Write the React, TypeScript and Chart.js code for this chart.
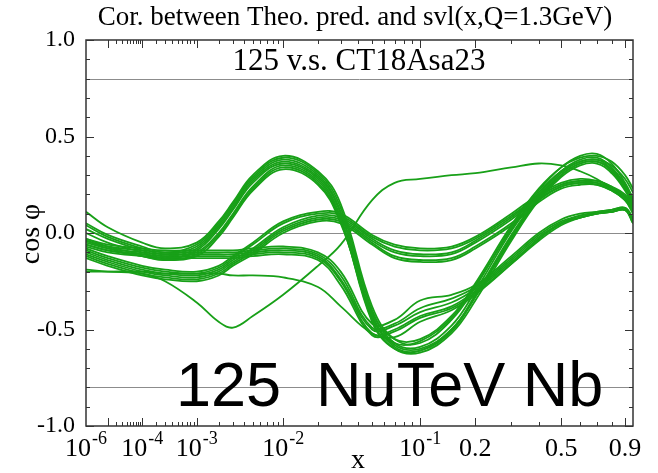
import React, { useEffect, useRef } from 'react';
import { Chart, registerables, LinearScale } from 'chart.js';

// ---------- data ----------
const xs = [1e-6, 1e-5, 1e-4, 3e-4, 1e-3, 2e-3, 3e-3, 5e-3, 1e-2, 2e-2, 3e-2, 5e-2, 7e-2, 0.1, 0.15, 0.2, 0.3, 0.4, 0.5, 0.6, 0.7, 0.8, 0.9, 0.964];

const A1 = [0.11, 0.03, -0.05, -0.08, -0.05, 0.06, 0.16, 0.30, 0.40, 0.32, 0.15, -0.38, -0.55, -0.57, -0.45, -0.28, 0.03, 0.22, 0.34, 0.40, 0.41, 0.36, 0.26, 0.18];
const A2 = [0.05, -0.01, -0.07, -0.10, -0.06, 0.05, 0.15, 0.29, 0.39, 0.31, 0.13, -0.40, -0.57, -0.59, -0.48, -0.30, 0.01, 0.20, 0.32, 0.38, 0.39, 0.34, 0.25, 0.17];
const A3 = [0.04, -0.02, -0.08, -0.11, -0.07, 0.04, 0.14, 0.28, 0.38, 0.30, 0.11, -0.42, -0.58, -0.60, -0.50, -0.32, -0.01, 0.19, 0.31, 0.37, 0.38, 0.33, 0.24, 0.16];
const A4 = [0.02, -0.03, -0.09, -0.12, -0.08, 0.03, 0.13, 0.27, 0.37, 0.29, 0.10, -0.43, -0.59, -0.61, -0.51, -0.33, -0.02, 0.18, 0.30, 0.36, 0.37, 0.32, 0.23, 0.15];
const A5 = [0.00, -0.05, -0.10, -0.13, -0.09, 0.02, 0.12, 0.26, 0.36, 0.28, 0.08, -0.45, -0.60, -0.62, -0.52, -0.35, -0.04, 0.17, 0.29, 0.35, 0.36, 0.31, 0.22, 0.14];
const A6 = [-0.03, -0.07, -0.11, -0.13, -0.10, 0.00, 0.10, 0.24, 0.35, 0.27, 0.07, -0.46, -0.60, -0.61, -0.50, -0.33, -0.03, 0.18, 0.30, 0.36, 0.37, 0.33, 0.25, 0.18];
const A7 = [-0.04, -0.08, -0.12, -0.14, -0.11, -0.01, 0.09, 0.23, 0.34, 0.26, 0.06, -0.44, -0.57, -0.56, -0.44, -0.27, 0.02, 0.21, 0.32, 0.37, 0.38, 0.35, 0.28, 0.21];
const A8 = [-0.06, -0.09, -0.12, -0.14, -0.12, -0.02, 0.08, 0.22, 0.33, 0.25, 0.05, -0.41, -0.55, -0.55, -0.43, -0.26, 0.04, 0.23, 0.34, 0.39, 0.40, 0.37, 0.30, 0.23];

const B1 = [-0.08, -0.12, -0.17, -0.19, -0.20, -0.17, -0.12, -0.05, 0.06, 0.11, 0.10, -0.01, -0.06, -0.08, -0.07, -0.02, 0.10, 0.20, 0.26, 0.28, 0.27, 0.24, 0.20, 0.14];
const B2 = [-0.09, -0.13, -0.18, -0.20, -0.21, -0.18, -0.13, -0.06, 0.05, 0.10, 0.09, -0.02, -0.07, -0.09, -0.08, -0.03, 0.09, 0.19, 0.25, 0.27, 0.27, 0.24, 0.19, 0.13];
const B3 = [-0.10, -0.14, -0.19, -0.21, -0.22, -0.19, -0.14, -0.08, 0.03, 0.09, 0.08, -0.03, -0.09, -0.11, -0.10, -0.04, 0.08, 0.19, 0.25, 0.27, 0.26, 0.23, 0.19, 0.13];
const B4 = [-0.11, -0.15, -0.20, -0.22, -0.23, -0.20, -0.15, -0.09, 0.02, 0.08, 0.07, -0.04, -0.10, -0.12, -0.11, -0.05, 0.07, 0.18, 0.24, 0.26, 0.26, 0.23, 0.18, 0.12];
const B5 = [-0.12, -0.16, -0.21, -0.23, -0.24, -0.21, -0.16, -0.10, 0.01, 0.07, 0.06, -0.05, -0.12, -0.14, -0.13, -0.07, 0.05, 0.17, 0.24, 0.26, 0.25, 0.22, 0.17, 0.11];
const B6 = [-0.13, -0.17, -0.22, -0.24, -0.25, -0.22, -0.17, -0.11, 0.00, 0.06, 0.05, -0.06, -0.13, -0.15, -0.14, -0.08, 0.04, 0.16, 0.23, 0.25, 0.25, 0.22, 0.17, 0.10];

const D1 = [-0.03, -0.06, -0.08, -0.09, -0.09, -0.09, -0.09, -0.08, -0.07, -0.10, -0.20, -0.47, -0.45, -0.35, -0.32, -0.27, -0.12, 0.00, 0.07, 0.10, 0.11, 0.12, 0.13, 0.08];
const D2 = [-0.04, -0.07, -0.09, -0.10, -0.10, -0.10, -0.10, -0.09, -0.08, -0.11, -0.22, -0.49, -0.47, -0.39, -0.34, -0.28, -0.13, -0.01, 0.06, 0.09, 0.11, 0.12, 0.13, 0.07];
const D3 = [-0.05, -0.08, -0.10, -0.11, -0.11, -0.11, -0.11, -0.10, -0.09, -0.12, -0.24, -0.50, -0.48, -0.41, -0.36, -0.29, -0.14, -0.02, 0.05, 0.09, 0.10, 0.11, 0.12, 0.06];
const D4 = [-0.06, -0.09, -0.11, -0.12, -0.12, -0.12, -0.12, -0.11, -0.10, -0.13, -0.25, -0.52, -0.50, -0.43, -0.38, -0.30, -0.15, -0.03, 0.05, 0.08, 0.10, 0.11, 0.12, 0.05];
const D5 = [-0.07, -0.10, -0.12, -0.13, -0.13, -0.13, -0.13, -0.12, -0.11, -0.14, -0.27, -0.53, -0.51, -0.44, -0.39, -0.31, -0.16, -0.04, 0.04, 0.08, 0.10, 0.11, 0.12, 0.05];

const E1 = [-0.20, -0.20, -0.20, -0.21, -0.21, -0.21, -0.22, -0.22, -0.23, -0.28, -0.38, -0.52, -0.54, -0.46, -0.40, -0.32, -0.16, -0.03, 0.05, 0.08, 0.10, 0.11, 0.12, 0.08];
const C1 = [-0.19, -0.20, -0.21, -0.25, -0.36, -0.46, -0.49, -0.43, -0.32, -0.17, -0.06, 0.17, 0.26, 0.28, 0.30, 0.31, 0.34, 0.36, 0.35, 0.32, 0.28, 0.23, 0.17, 0.12];

const allSeries = [A1, A2, A3, A4, A5, A6, A7, A8, B1, B2, B3, B4, B5, B6, D1, D2, D3, D4, D5, E1, C1];

const xMin = 1e-6;
const xMax = 0.964;
const xTickValues = [1e-6, 1e-4, 1e-3, 1e-2, 1e-1, 0.2, 0.5, 0.9];
const xTickBase = ['10', '10', '10', '10', '10', '0.2', '0.5', '0.9'];
const xTickExp = ['-6', '-4', '-3', '-2', '-1', '', '', ''];
const refLines = [0.8, 0, -0.8];

const titleText = 'Cor. between Theo. pred. and svl(x,Q=1.3GeV)';
const subtitleText = '125 v.s. CT18Asa23';
const bigText = '125  NuTeV Nb';
const xTitle = 'x';
const yTitle = 'cos \u03c6';

// ---------- custom x^(1/5) scale ----------
const POW = 0.2;
class PowerScale extends LinearScale {
  static id = 'power';
  static defaults = LinearScale.defaults;
  getPixelForValue(value: number) {
    const t0 = Math.pow(this.min, POW);
    const t1 = Math.pow(this.max, POW);
    const t = Math.pow(Math.max(value, 1e-12), POW);
    return this.getPixelForDecimal((t - t0) / (t1 - t0));
  }
  getValueForPixel(pixel: number) {
    const t0 = Math.pow(this.min, POW);
    const t1 = Math.pow(this.max, POW);
    const d = this.getDecimalForPixel(pixel);
    return Math.pow(t0 + d * (t1 - t0), 1 / POW);
  }
}

Chart.register(...registerables, PowerScale as any);

const SERIF = '"Liberation Serif", "Times New Roman", serif';
const SANS = '"Liberation Sans", Arial, sans-serif';
const GREEN = '#18a018';

const decor = {
  id: 'decor',
  beforeDatasetsDraw(chart: any) {
    const { ctx, chartArea: a } = chart;
    const ys = chart.scales.y;
    ctx.save();
    ctx.strokeStyle = '#8c8c8c';
    ctx.lineWidth = 1;
    for (const v of refLines) {
      const py = Math.round(ys.getPixelForValue(v)) + 0.5;
      ctx.beginPath();
      ctx.moveTo(a.left, py);
      ctx.lineTo(a.right, py);
      ctx.stroke();
    }
    ctx.restore();
  },
  afterDatasetsDraw(chart: any) {
    const { ctx, chartArea: a } = chart;
    const xsScale = chart.scales.x;
    const ys = chart.scales.y;
    ctx.save();
    // big label
    ctx.fillStyle = '#000';
    ctx.font = `63px ${SANS}`;
    ctx.textAlign = 'left';
    ctx.textBaseline = 'alphabetic';
    ctx.fillText(bigText, 176, 406);

    // frame
    ctx.strokeStyle = '#333';
    ctx.lineWidth = 1.5;
    ctx.strokeRect(a.left, a.top, a.right - a.left, a.bottom - a.top);

    // y ticks
    ctx.lineWidth = 1;
    for (let i = -10; i <= 10; i++) {
      const v = i / 10;
      const py = Math.round(ys.getPixelForValue(v)) + 0.5;
      const len = i % 5 === 0 ? 8 : 4;
      ctx.beginPath();
      ctx.moveTo(a.left, py); ctx.lineTo(a.left + len, py);
      ctx.moveTo(a.right, py); ctx.lineTo(a.right - len, py);
      ctx.stroke();
    }
    // x ticks
    const majors = [1e-5, 1e-4, 1e-3, 1e-2, 0.1, 0.2, 0.5, 0.9];
    const minors: number[] = [];
    for (let d = -5; d <= -1; d++) {
      for (let k = 2; k <= 9; k++) minors.push(k * Math.pow(10, d));
    }
    const drawX = (v: number, len: number) => {
      const px = Math.round(xsScale.getPixelForValue(v)) + 0.5;
      if (px <= a.left + 1 || px >= a.right - 1) return;
      ctx.beginPath();
      ctx.moveTo(px, a.bottom); ctx.lineTo(px, a.bottom - len);
      ctx.moveTo(px, a.top); ctx.lineTo(px, a.top + len);
      ctx.stroke();
    };
    minors.forEach((v) => drawX(v, 4));
    majors.forEach((v) => drawX(v, 8));
    ctx.restore();
  },
  afterDraw(chart: any) {
    const { ctx } = chart;
    const xsScale = chart.scales.x;
    ctx.save();
    ctx.fillStyle = '#000';
    ctx.textBaseline = 'middle';
    ctx.textAlign = 'center';
    ctx.font = `27px ${SERIF}`;
    ctx.fillText(titleText, 355, 18);
    ctx.font = `31px ${SERIF}`;
    ctx.fillText(subtitleText, 359, 62);

    // x tick labels
    xTickValues.forEach((v, i) => {
      const px = xsScale.getPixelForValue(v);
      const base = xTickBase[i];
      const exp = xTickExp[i];
      ctx.font = `26px ${SERIF}`;
      const wb = ctx.measureText(base).width;
      ctx.font = `18px ${SERIF}`;
      const we = exp ? ctx.measureText(exp).width + 1 : 0;
      const x0 = px - (wb + we) / 2;
      ctx.textAlign = 'left';
      ctx.font = `26px ${SERIF}`;
      ctx.fillText(base, x0, 449);
      if (exp) {
        ctx.font = `18px ${SERIF}`;
        ctx.fillText(exp, x0 + wb + 1, 439);
      }
    });
    // axis titles
    ctx.textAlign = 'center';
    ctx.font = `28px ${SERIF}`;
    ctx.fillText(xTitle, 358, 461);
    ctx.translate(32, 234);
    ctx.rotate(-Math.PI / 2);
    ctx.fillText(yTitle, 0, 0);
    ctx.restore();
  },
};

export default function App() {
  const ref = useRef<HTMLCanvasElement | null>(null);
  useEffect(() => {
    if (!ref.current) return;
    const chart = new Chart(ref.current, {
      type: 'line',
      data: {
        datasets: allSeries.map((s, k) => ({
          label: `s${k}`,
          data: xs.map((x, i) => ({ x, y: s[i] })),
          borderColor: GREEN,
          borderWidth: 1.8,
          pointRadius: 0,
          fill: false,
          tension: 0.4,
        })),
      },
      options: {
        responsive: false,
        devicePixelRatio: 1,
        animation: false,
        layout: { padding: { top: 40, right: 25, left: 0, bottom: 0 } },
        plugins: { legend: { display: false }, tooltip: { enabled: false }, title: { display: false } },
        scales: {
          x: {
            type: 'power' as any,
            min: xMin,
            max: xMax,
            ticks: { display: false },
            grid: { display: false, drawTicks: false },
            border: { display: false },
            afterFit: (s: any) => { s.height = 47; },
          },
          y: {
            type: 'linear',
            min: -1,
            max: 1,
            ticks: {
              stepSize: 0.5,
              color: '#000',
              padding: 11,
              font: { family: SERIF, size: 24 },
              callback: (v: any) => Number(v).toFixed(1),
            },
            grid: { display: false, drawTicks: false },
            border: { display: false },
            afterFit: (s: any) => { s.width = 86; },
          },
        },
      },
      plugins: [decor],
    });
    return () => chart.destroy();
  }, []);
  return (
    <div style={{ position: 'fixed', left: 0, top: 0, width: 658, height: 473, background: '#fff' }}>
      <canvas ref={ref} width={658} height={473} style={{ display: 'block' }} />
    </div>
  );
}
